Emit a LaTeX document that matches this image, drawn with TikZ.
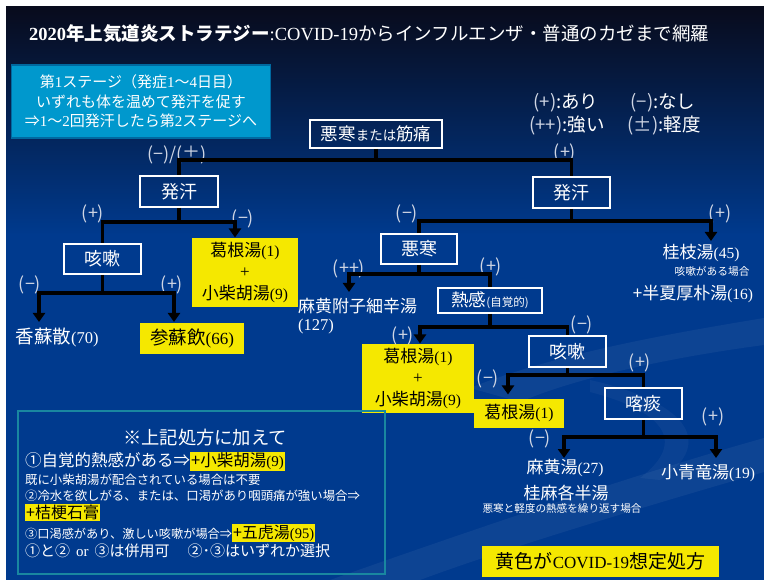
\documentclass[tikz,border=0pt]{standalone}
\usepackage{fontspec}
\setmainfont{Noto Sans CJK JP}
\newfontfamily\tnr{Liberation Serif}
\usetikzlibrary{arrows.meta}
\definecolor{bgblue}{RGB}{0,58,142}
\definecolor{bgdark}{RGB}{8,11,28}
\definecolor{bgmid}{RGB}{28,40,88}
\definecolor{ylw}{RGB}{245,232,0}
\definecolor{lblc}{RGB}{208,214,228}
\definecolor{stagec}{RGB}{0,152,205}
\definecolor{stageb}{RGB}{0,105,160}
\definecolor{notec}{RGB}{25,135,160}
\newcommand{\myfs}[1]{\fontsize{#1}{#1}\selectfont}
\newcommand{\nb}[2]{{\tnr\fontsize{#1}{#1}\selectfont #2}}
\newcommand{\hlt}[1]{{\setlength{\fboxsep}{1pt}\colorbox{ylw}{\color{black}#1}}}
\tikzset{
  box/.style={draw=white, line width=1.8pt, inner sep=0pt, text=white, font=\myfs{18}},
  ybox/.style={fill=ylw, inner sep=0pt, text=black},
  lbl/.style={text=lblc, font=\myfs{18}, inner sep=0pt},
  med/.style={text=white, font=\myfs{17}, inner sep=0pt},
  conn/.style={line width=3.7pt, black},
  arr/.style={conn, -{Triangle[length=9pt,width=12pt]}}
}
\begin{document}
\begin{tikzpicture}[x=1pt,y=-1pt]
\useasboundingbox (0,0) rectangle (764,580);
\fill[white] (0,0) rectangle (764,580);
\shade[top color=bgdark, middle color=bgmid, bottom color=bgblue] (6,7) rectangle (764,235);
\fill[bgblue] (6,234.5) rectangle (764,580);
% swooshes
\fill[white, opacity=0.05] (330,580) .. controls (500,520) and (650,470) .. (764,438) -- (764,472) .. controls (650,505) and (500,550) .. (420,580) -- cycle;
\fill[white, opacity=0.05] (470,388) .. controls (560,352) and (680,332) .. (764,318) -- (764,345) .. controls (680,356) and (580,376) .. (520,402) -- cycle;
\fill[white, opacity=0.04] (590,380) .. controls (680,400) and (720,440) .. (660,480) -- (640,478) .. controls (690,440) and (660,410) .. (590,392) -- cycle;

% title
\node[anchor=west, text=white, inner sep=0pt, font=\myfs{18.5}] (title) at (29,33.5)
  {{\tnr\bfseries 2020}{\bfseries 年上気道炎ストラテジー}{\tnr :COVID-19}からインフルエンザ・普通のカゼまで網羅};

% stage box
\node[fill=stagec, draw=stageb, line width=1.5pt, minimum width=259pt, minimum height=73pt,
  align=center, inner sep=0pt, text=white, font=\fontsize{15}{19.5}\selectfont] (stage) at (141,101.5)
  {第{\tnr 1}ステージ（発症{\tnr 1}～{\tnr 4}日目）\\いずれも体を温めて発汗を促す\\⇒{\tnr 1}～{\tnr 2}回発汗したら第{\tnr 2}ステージへ};

% legend
\node[text=white, font=\myfs{18.5}, inner sep=0pt] (lg1) at (566,103) {{\color{lblc}(+)}:あり};
\node[text=white, font=\myfs{18.5}, inner sep=0pt] (lg2) at (663,103) {{\color{lblc}(−)}:なし};
\node[text=white, font=\myfs{18.5}, inner sep=0pt] (lg3) at (567,125.5) {{\color{lblc}(++)}:強い};
\node[text=white, font=\myfs{18.5}, inner sep=0pt] (lg4) at (664,125.5) {{\color{lblc}(±)}:軽度};

% boxes
\node[box, minimum width=132pt, minimum height=28pt, font=\myfs{17.5}] (root) at (376,134) {悪寒{\myfs{13.5}または}筋痛};
\node[box, minimum width=78pt, minimum height=31pt] (hL) at (179,191.5) {発汗};
\node[box, minimum width=77pt, minimum height=31pt] (hR) at (571.5,192.5) {発汗};
\node[box, minimum width=77pt, minimum height=30pt] (kL) at (102.5,259) {咳嗽};
\node[box, minimum width=76pt, minimum height=30pt] (oK) at (419,249) {悪寒};
\node[box, minimum width=104pt, minimum height=25pt, font=\myfs{17.5}] (nK) at (490,300.5) {熱感{\myfs{11.5}(自覚的)}};
\node[box, minimum width=77pt, minimum height=31pt] (kR) at (567.5,351.5) {咳嗽};
\node[box, minimum width=77pt, minimum height=31pt] (kT) at (643.5,403.5) {喀痰};

% yellow boxes
\node[ybox, minimum width=106pt, minimum height=69pt, align=center, font=\fontsize{17}{21.5}\selectfont] (y1) at (245,272.5)
  {葛根湯\nb{15.5}{(1)}\\{\tnr +}\\小柴胡湯\nb{15.5}{(9)}};
\node[ybox, minimum width=104pt, minimum height=31pt, font=\myfs{18.5}] (sanso) at (192,338.5) {参蘇飲\nb{17}{(66)}};
\node[ybox, minimum width=112pt, minimum height=69pt, align=center, font=\fontsize{17}{21.5}\selectfont] (y2) at (418,378.5)
  {葛根湯\nb{15.5}{(1)}\\{\tnr +}\\小柴胡湯\nb{15.5}{(9)}};
\node[ybox, minimum width=90pt, minimum height=29pt, font=\myfs{17}] (kk) at (519,413.5) {葛根湯\nb{15.5}{(1)}};
\node[ybox, minimum width=237pt, minimum height=31pt, font=\myfs{19}] (legend) at (600.5,561.5) {黄色が\nb{17}{COVID-19}想定処方};

% free texts
\node[med, font=\myfs{18.5}] (kousosan) at (57,337) {香蘇散\nb{16.5}{(70)}};
\node[med, anchor=west] (mao) at (298,306) {麻黄附子細辛湯};
\node[med, anchor=west, font=\myfs{16}] (mao127) at (298,327) {\nb{16.5}{(127)}};
\node[med] (keishi) at (701,253) {桂枝湯\nb{15.5}{(45)}};
\node[med, font=\myfs{10.7}] (keishinote) at (712,271) {咳嗽がある場合};
\node[med] (hange) at (693,294) {+半夏厚朴湯\nb{15.5}{(16)}};
\node[med] (maoto) at (565,468) {麻黄湯\nb{15.5}{(27)}};
\node[med] (keima) at (566,493) {桂麻各半湯};
\node[med, font=\myfs{10.6}] (keimanote) at (562,508.5) {悪寒と軽度の熱感を繰り返す場合};
\node[med] (shoseiryu) at (708,473) {小青竜湯\nb{15.5}{(19)}};

% labels
\node[lbl] (l1) at (177,155) {(−)/(±)};
\node[lbl] (l2) at (565,153) {(+)};
\node[lbl] (l3) at (93,214) {(+)};
\node[lbl] (l4) at (243,219) {(−)};
\node[lbl] (l5) at (30,285) {(−)};
\node[lbl] (l6) at (172,285) {(+)};
\node[lbl] (l7) at (407,214) {(−)};
\node[lbl] (l8) at (720,214) {(+)};
\node[lbl] (l9) at (349,269) {(++)};
\node[lbl] (l10) at (491,267) {(+)};
\node[lbl] (l11) at (403,336) {(+)};
\node[lbl] (l12) at (582,325) {(−)};
\node[lbl] (l13) at (640,363) {(+)};
\node[lbl] (l14) at (488,379) {(−)};
\node[lbl] (l15) at (713,417) {(+)};
\node[lbl] (l16) at (540,439) {(−)};

% connectors
\coordinate (j1) at (376,160);
\draw[conn] (root.south) -- (j1) -| (hL.north);
\draw[conn] (j1) -| (hR.north);
\coordinate (j2) at (179,222);
\coordinate (a2) at (235,237.5);
\draw[conn] (hL.south) -- (j2) -| (kL.north);
\draw[arr] (j2) -| (a2);
\coordinate (j3) at (102.5,293);
\coordinate (a3a) at (39,322);
\coordinate (a3b) at (174,322);
\draw[arr] (kL.south) -- (j3) -| (a3a);
\draw[arr] (j3) -| (a3b);
\coordinate (j4) at (571.5,221);
\coordinate (a4) at (711,241);
\draw[conn] (hR.south) -- (j4) -| (oK.north);
\draw[arr] (j4) -| (a4);
\coordinate (j5) at (419,274);
\coordinate (a5) at (349,292);
\draw[arr] (oK.south) -- (j5) -| (a5);
\draw[conn] (j5) -| (nK.north);
\coordinate (j6) at (490,327);
\coordinate (a6) at (420,343.5);
\draw[arr] (nK.south) -- (j6) -| (a6);
\draw[conn] (j6) -| (kR.north);
\coordinate (j7) at (567.5,375);
\coordinate (a7) at (508,394.5);
\draw[arr] (kR.south) -- (j7) -| (a7);
\draw[conn] (j7) -| (kT.north);
\coordinate (j8) at (643.5,437);
\coordinate (a8a) at (564,458);
\coordinate (a8b) at (716,458);
\draw[arr] (kT.south) -- (j8) -| (a8a);
\draw[arr] (j8) -| (a8b);

% note box
\node[draw=notec, line width=2.5pt, minimum width=367pt, minimum height=163pt, inner sep=0pt] (note) at (201.5,492.5) {};
\node[text=white, inner sep=0pt, font=\myfs{18.3}] (n0) at (205,437.5) {※上記処方に加えて};
\node[text=white, inner sep=0pt, anchor=west, font=\myfs{16.5}] (n1) at (25,461.5) {①自覚的熱感がある⇒\hlt{+小柴胡湯\nb{15}{(9)}}};
\node[text=white, inner sep=0pt, anchor=west, font=\myfs{12.4}] (n2) at (25,480) {既に小柴胡湯が配合されている場合は不要};
\node[text=white, inner sep=0pt, anchor=west, font=\myfs{12.4}] (n3) at (25,495.5) {②冷水を欲しがる、または、口渇があり咽頭痛が強い場合⇒};
\node[text=white, inner sep=0pt, anchor=west, font=\myfs{16}] (n4) at (25,512.5) {\hlt{+桔梗石膏}};
\node[text=white, inner sep=0pt, anchor=west, font=\myfs{12.2}] (n5) at (25,533) {③口渇感があり、激しい咳嗽が場合⇒\hlt{\myfs{16}+五虎湯\nb{14.5}{(95)}}};
\node[text=white, inner sep=0pt, anchor=west, font=\myfs{15}] (n6) at (25,550.5) {①と②\hspace{6pt}{\tnr or}\hspace{6pt}③は併用可\hspace{18pt}②･③はいずれか選択};
\end{tikzpicture}
\end{document}
